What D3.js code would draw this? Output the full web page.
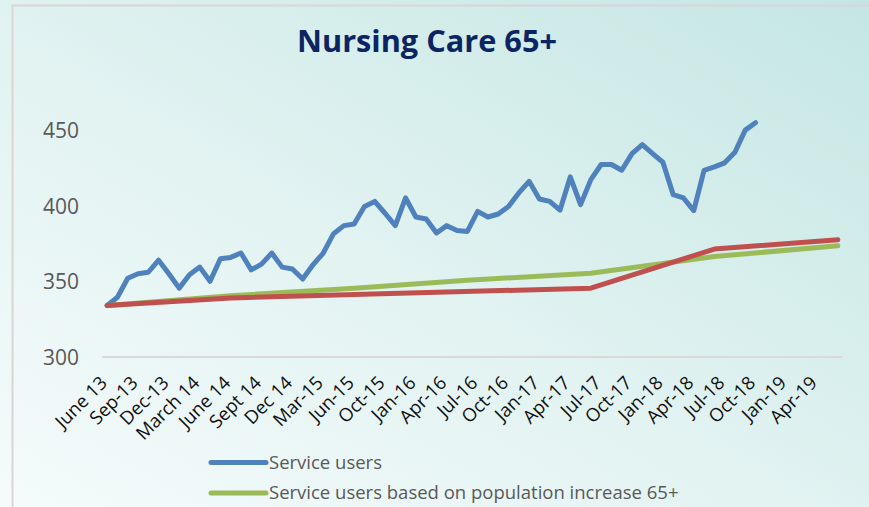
<!DOCTYPE html>
<html><head><meta charset="utf-8">
<script src="https://cdn.jsdelivr.net/npm/d3@7"></script>
<style>html,body{margin:0;padding:0;background:#fff;}svg{display:block;}</style>
</head><body>
<svg id="chart" width="869" height="507"></svg>
<script>
// Monthly categories (labels shown on every third one)
const categories = [
  "June 13","Jul-13","Aug-13","Sep-13","Oct-13","Nov-13","Dec-13","Jan-14","Feb-14","March 14","Apr-14","May-14",
  "June 14","Jul-14","Aug-14","Sept 14","Oct-14","Nov-14","Dec 14","Jan-15","Feb-15","Mar-15","Apr-15","May-15",
  "Jun-15","Aug-15","Sep-15","Oct-15","Nov-15","Dec-15","Jan-16","Feb-16","Mar-16","Apr-16","May-16","Jun-16",
  "Jul-16","Aug-16","Sep-16","Oct-16","Nov-16","Dec-16","Jan-17","Feb-17","Mar-17","Apr-17","May-17","Jun-17",
  "Jul-17","Aug-17","Sep-17","Oct-17","Nov-17","Dec-17","Jan-18","Feb-18","Mar-18","Apr-18","May-18","Jun-18",
  "Jul-18","Aug-18","Sep-18","Oct-18","Nov-18","Dec-18","Jan-19","Feb-19","Mar-19","Apr-19","May-19","Jun-19"
];
const tickLabels = ["June 13","Sep-13","Dec-13","March 14","June 14","Sept 14","Dec 14","Mar-15","Jun-15","Oct-15",
  "Jan-16","Apr-16","Jul-16","Oct-16","Jan-17","Apr-17","Jul-17","Oct-17","Jan-18","Apr-18","Jul-18","Oct-18","Jan-19","Apr-19"];

// Service users (monthly, June 13 .. Oct-18)
const serviceUsers = [
  334, 339.5, 352, 355, 356, 364, 355, 345.5, 354.3, 359.4, 350, 364.9,
  365.8, 368.7, 357.6, 361.4, 368.7, 359.4, 358.1, 351.5, 360.9, 368.7, 381.5, 386.8,
  387.9, 399.5, 402.8, 395, 386.8, 405.1, 392.5, 391.2, 381.9, 386.8, 383.6, 383,
  396.2, 392.5, 394.5, 399.5, 408.4, 416.1, 404.4, 402.8, 397, 419, 400.7, 417.2,
  427.2, 427.2, 423.4, 434.4, 440.4, 434.4, 428.7, 407.3, 405.1, 396.7, 423.4, 425.6,
  428.3, 435.3, 449.9, 454.8
];

// Service users based on population increase 65+ (annual points)
const popCats = ["June 13","June 14","Jun-15","Jun-16","Jun-17","Jun-18","Jun-19"];
const popValues = [334, 340.5, 345.5, 350.7, 355.4, 366.4, 373.5];

// Third series (red)
const redCats = ["June 13","June 14","Jun-17","Jun-18","Jun-19"];
const redValues = [334, 339, 345.5, 371.3, 377.5];

const yTicks = [300, 350, 400, 450];
const legendLabels = ["Service users", "Service users based on population increase 65+"];
const colors = { blue: "#4F81BD", green: "#9BBB59", red: "#C0504D" };

const svg = d3.select("#chart");
const W = 869, H = 507;

// background gradient
const defs = svg.append("defs");
const grad = defs.append("linearGradient").attr("id", "bg")
  .attr("x1", "0").attr("y1", "1").attr("x2", "1").attr("y2", "0");
grad.append("stop").attr("offset", "0").attr("stop-color", "#f5fbfb");
grad.append("stop").attr("offset", "0.45").attr("stop-color", "#e2f3f2");
grad.append("stop").attr("offset", "1").attr("stop-color", "#c4e6e3");
svg.append("rect").attr("width", W).attr("height", H).attr("fill", "url(#bg)");
// frame
svg.append("rect").attr("x", 12.5).attr("y", 5.5).attr("width", 900).attr("height", 600)
  .attr("fill", "none").attr("stroke", "#d9d5d5").attr("stroke-width", 2);

// title
svg.append("text").attr("x", 427).attr("y", 52).attr("text-anchor", "middle")
  .attr("font-family", "Open Sans, sans-serif").attr("font-weight", "bold").attr("font-size", 30)
  .attr("fill", "#0c2562").attr("textLength", 260).attr("lengthAdjust", "spacingAndGlyphs")
  .text("Nursing Care 65+");

const x = d3.scaleBand().domain(categories).range([102, 843]);
const y = d3.scaleLinear().domain([300, 450]).range([357, 130]);
const cx = c => x(c) + x.bandwidth() / 2;

// y axis labels
const yAxis = d3.axisLeft(y).tickValues(yTicks).tickSize(0).tickPadding(0);
const gy = svg.append("g").attr("transform", "translate(79,0)").call(yAxis);
gy.select(".domain").remove();
gy.selectAll("text").attr("font-family", "Open Sans, sans-serif").attr("font-size", 21)
  .attr("fill", "#595959").attr("dy", "0.35em");

// baseline (category axis)
const xAxis = d3.axisBottom(x).tickValues(categories.filter((c, i) => i % 3 === 0 && tickLabels.includes(c)))
  .tickSize(0).tickPadding(0);
const gx = svg.append("g").attr("transform", `translate(0,${y(300)})`).call(xAxis);
gx.select(".domain").attr("stroke", "#d9d9d9").attr("stroke-width", 2).attr("d", "M102,0H843");
gx.selectAll(".tick text")
  .attr("font-family", "Open Sans, sans-serif").attr("font-size", 18.5).attr("fill", "#111")
  .attr("text-anchor", "end").attr("dy", null).attr("y", 0)
  .attr("transform", "translate(1,27) rotate(-45)");

// lines
const line = d3.line().x(d => cx(d[0])).y(d => y(d[1]));
const drawLine = (data, color) => svg.append("path").datum(data)
  .attr("fill", "none").attr("stroke", color).attr("stroke-width", 5)
  .attr("stroke-linejoin", "round").attr("stroke-linecap", "round").attr("d", line);

drawLine(serviceUsers.map((v, i) => [categories[i], v]), colors.blue);
drawLine(popCats.map((c, i) => [c, popValues[i]]), colors.green);
drawLine(redCats.map((c, i) => [c, redValues[i]]), colors.red);

// legend
const legend = svg.append("g");
const legendColors = [colors.blue, colors.green];
legendLabels.forEach((lab, i) => {
  const ly = 462.5 + i * 30.5;
  legend.append("line").attr("x1", 211).attr("x2", 266).attr("y1", ly).attr("y2", ly)
    .attr("stroke", legendColors[i]).attr("stroke-width", 5).attr("stroke-linecap", "round");
  legend.append("text").attr("x", 269).attr("y", ly).attr("dy", "0.35em")
    .attr("font-family", "Open Sans, sans-serif").attr("font-size", 18.5).attr("fill", "#595959")
    .text(lab);
});
</script>
</body></html>
